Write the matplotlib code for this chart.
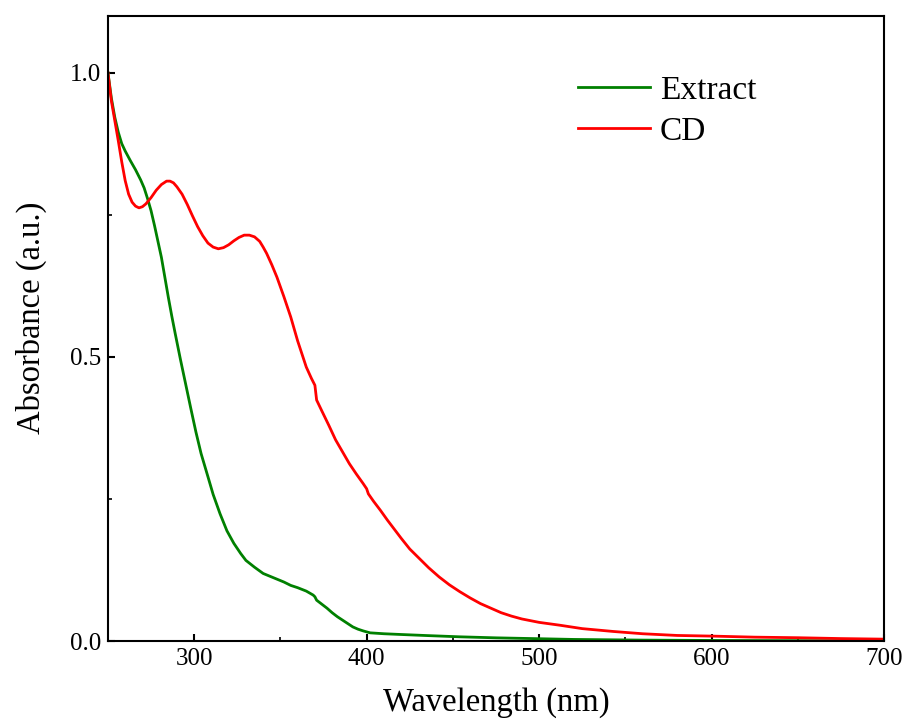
import matplotlib
matplotlib.use('Agg')
import matplotlib.pyplot as plt
from matplotlib.ticker import MultipleLocator

# ---------------------------------------------------------------
# DATA
# ---------------------------------------------------------------
extract_wl = [250, 252, 254, 256, 258, 260, 263, 266, 269, 271, 273, 275, 277, 279,
              281, 283, 285, 287, 289, 292, 295, 298, 301, 304, 308, 311, 315, 319,
              323, 327, 330, 335, 340, 344, 348, 352, 356, 360, 365, 369, 370, 371,
              374, 377, 380, 383, 386, 389, 392, 395, 398, 402, 410, 419, 435, 454,
              475, 493, 520, 560, 600, 650, 700]
extract_abs = [1.000, 0.955, 0.921, 0.895, 0.875, 0.862, 0.845, 0.829, 0.811, 0.797,
               0.778, 0.757, 0.731, 0.703, 0.675, 0.640, 0.605, 0.572, 0.541, 0.496,
               0.453, 0.410, 0.368, 0.330, 0.289, 0.258, 0.224, 0.194, 0.172, 0.154,
               0.142, 0.130, 0.119, 0.114, 0.109, 0.104, 0.098, 0.094, 0.088, 0.081,
               0.078, 0.072, 0.065, 0.058, 0.050, 0.043, 0.037, 0.031, 0.025, 0.021,
               0.018, 0.0146, 0.013, 0.0118, 0.0098, 0.0076, 0.0058, 0.0047, 0.003,
               0.0018, 0.0012, 0.0008, 0.0005]

cd_wl = [250, 252, 254, 256, 258, 260, 262, 264, 266, 268, 270, 272, 275, 278, 281,
         284, 286, 288, 290, 293, 296, 299, 302, 305, 308, 311, 314, 317, 320, 323,
         326, 329, 332, 335, 338, 340, 342, 345, 348, 352, 356, 360, 365, 368, 370,
         371, 374, 378, 382, 386, 390, 394, 398, 400, 401, 404, 408, 412, 416, 420,
         425, 430, 436, 442, 448, 454, 460, 466, 472, 478, 484, 490, 500, 512, 525,
         543, 560, 580, 601, 625, 650, 675, 700]
cd_abs = [1.000, 0.950, 0.915, 0.880, 0.843, 0.810, 0.786, 0.772, 0.765, 0.762,
          0.764, 0.769, 0.780, 0.793, 0.803, 0.809, 0.809, 0.806, 0.799, 0.786,
          0.768, 0.748, 0.729, 0.713, 0.700, 0.693, 0.690, 0.692, 0.697, 0.704,
          0.710, 0.714, 0.714, 0.711, 0.703, 0.693, 0.682, 0.662, 0.640, 0.606,
          0.570, 0.528, 0.482, 0.462, 0.450, 0.424, 0.405, 0.380, 0.354, 0.333,
          0.312, 0.294, 0.277, 0.268, 0.259, 0.246, 0.230, 0.213, 0.197, 0.181,
          0.162, 0.147, 0.129, 0.113, 0.099, 0.087, 0.076, 0.066, 0.058, 0.050,
          0.044, 0.039, 0.033, 0.028, 0.022, 0.017, 0.013, 0.010, 0.0088, 0.007,
          0.006, 0.0045, 0.0035]

x_ticks = [300, 400, 500, 600, 700]
y_ticks = [0.0, 0.5, 1.0]

# ---------------------------------------------------------------
# PLOT
# ---------------------------------------------------------------
plt.rcParams['font.family'] = ['Liberation Serif', 'DejaVu Serif']

fig = plt.figure(figsize=(9.07, 7.22), dpi=100)
ax = fig.add_axes([0.119, 0.112, 0.8557, 0.8663])

ax.plot(extract_wl, extract_abs, color='#008000', lw=2.0, label='Extract')
ax.plot(cd_wl, cd_abs, color='#ff0000', lw=2.0, label='CD')

ax.set_xlim(250, 700)
ax.set_ylim(0, 1.1)
ax.set_xticks(x_ticks)
ax.set_yticks(y_ticks)
ax.set_yticklabels([f'{v:.1f}' for v in y_ticks])
ax.xaxis.set_minor_locator(MultipleLocator(50))
ax.yaxis.set_minor_locator(MultipleLocator(0.25))

ax.tick_params(which='major', direction='in', length=5, width=1.5, labelsize=18, pad=5)
ax.tick_params(which='minor', direction='in', length=3, width=1.2)
for sp in ax.spines.values():
    sp.set_linewidth(1.5)

ax.set_xlabel('Wavelength (nm)', fontsize=23.5, labelpad=12)
ax.set_ylabel('Absorbance (a.u.)', fontsize=23.5)
ax.yaxis.set_label_coords(-0.078, 0.517)

ax.legend(loc='upper left', bbox_to_anchor=(0.6057, 0.905), frameon=False, fontsize=24,
          borderaxespad=0, borderpad=0, handlelength=2.16, handletextpad=0.3,
          labelspacing=0.32)

plt.savefig('out.png', dpi=100)
